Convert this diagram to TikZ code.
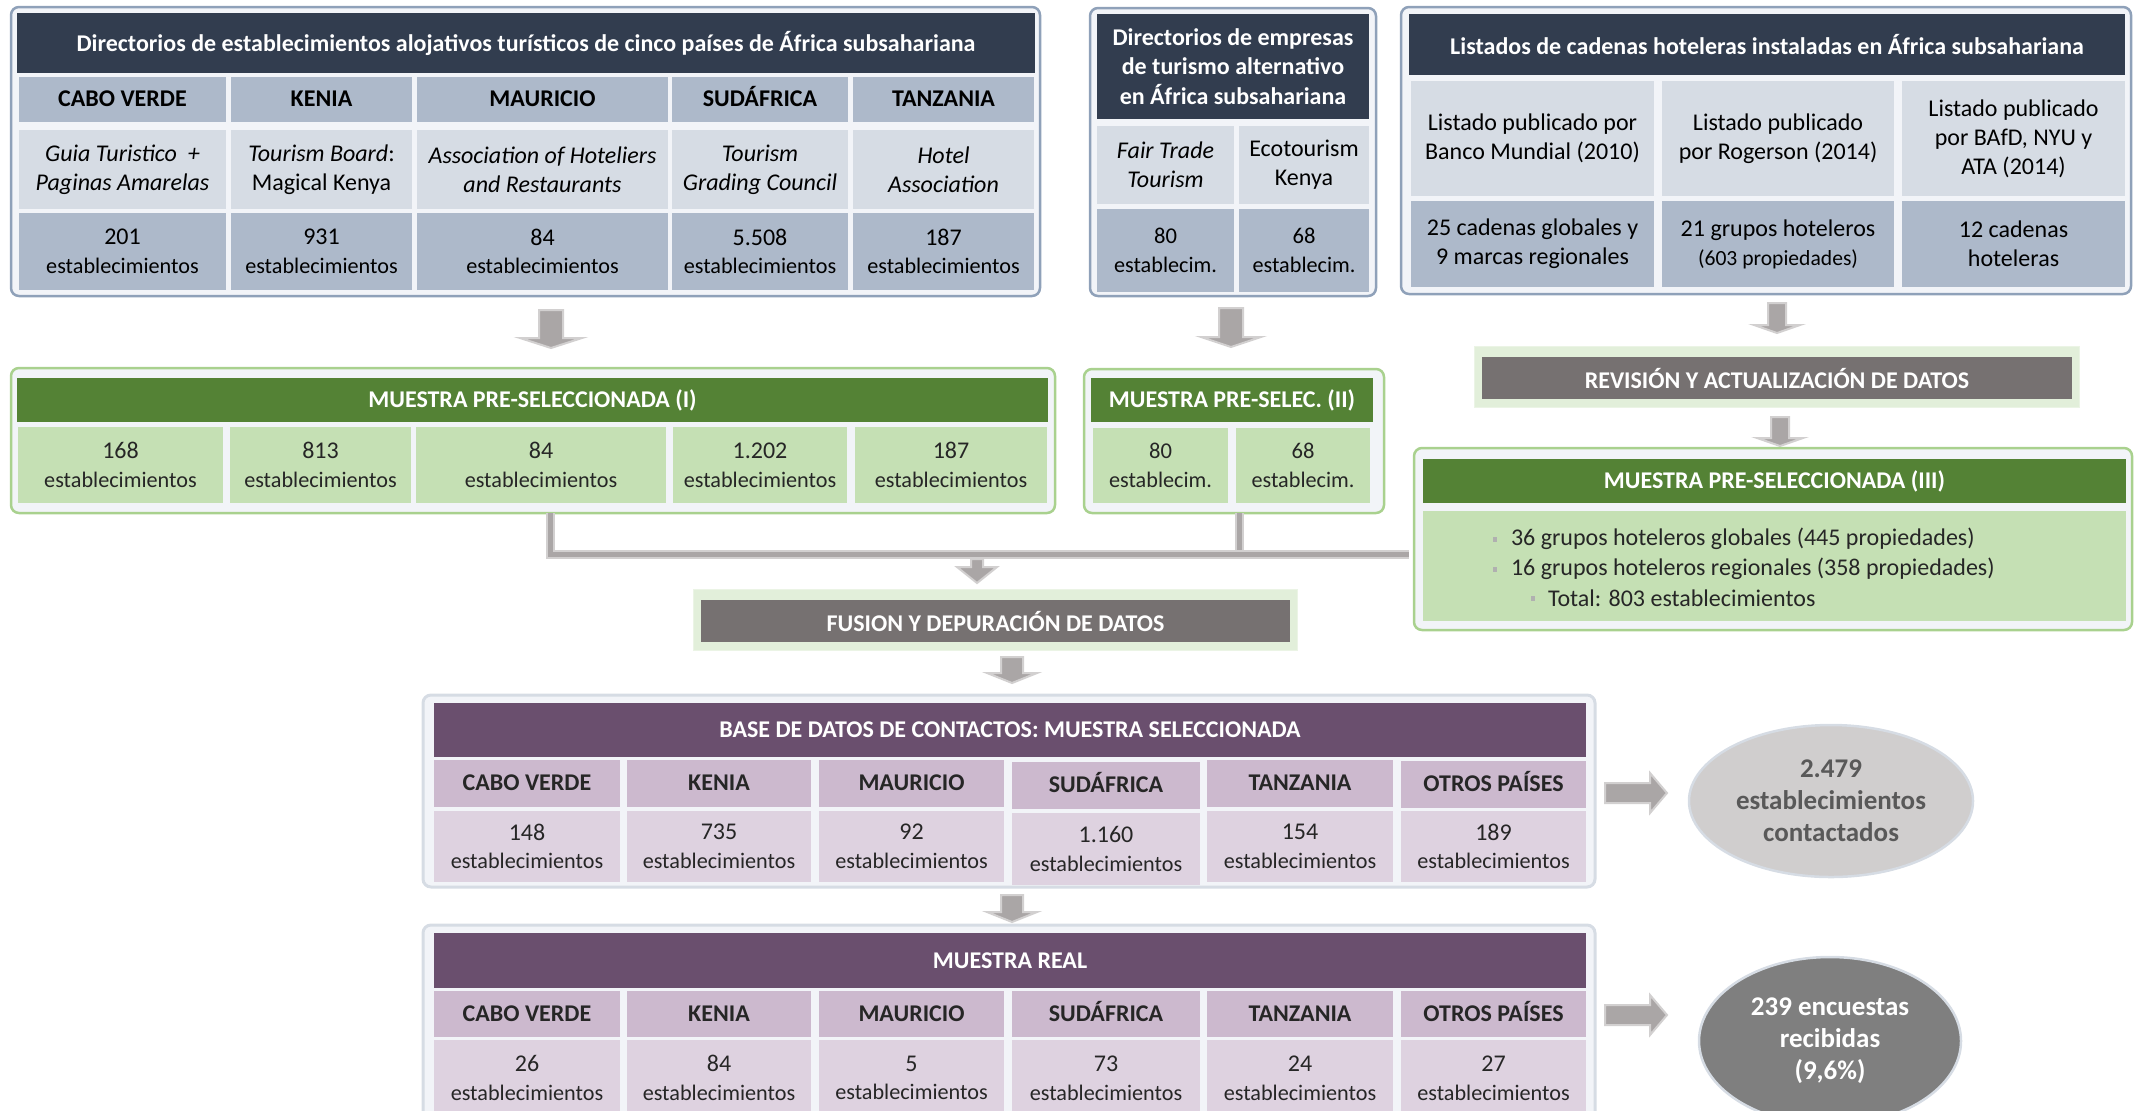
\documentclass[tikz,border=0pt]{standalone}
\usepackage{fontspec}
\setmainfont{Carlito}
\usetikzlibrary{shapes.geometric,calc}

\definecolor{navy}{HTML}{323D4F}
\definecolor{bgA}{HTML}{ADB9CA}
\definecolor{bgB}{HTML}{D6DCE4}
\definecolor{frameB}{HTML}{8FA1B9}
\definecolor{panel}{HTML}{F2F4F8}
\definecolor{gHead}{HTML}{548235}
\definecolor{gCell}{HTML}{C5E0B4}
\definecolor{gFrame}{HTML}{A9D18E}
\definecolor{gLight}{HTML}{E2EFDA}
\definecolor{proc}{HTML}{767171}
\definecolor{pHead}{HTML}{6A4F6E}
\definecolor{pCellA}{HTML}{CCB9CE}
\definecolor{pCellB}{HTML}{DED2E0}
\definecolor{pFrame}{HTML}{D6DCE4}
\definecolor{arrFill}{HTML}{AAA6A6}
\definecolor{arrEdge}{HTML}{D2D0D0}
\definecolor{ellA}{HTML}{D0CECE}
\definecolor{ellB}{HTML}{7F7F7F}
\definecolor{txtG}{HTML}{595959}
\definecolor{darkt}{HTML}{262626}
\definecolor{bulc}{HTML}{B0B0B0}

\newcommand\fhead{\fontsize{12}{14.6}\selectfont\bfseries}
\newcommand\fcty{\fontsize{12}{14}\selectfont\bfseries}
\newcommand\fsrc{\fontsize{12}{14.5}\selectfont}
\newcommand\fbody{\fontsize{11.1}{14.3}\selectfont}
\newcommand\flist{\fontsize{12}{15}\selectfont}
\newcommand\fell{\fontsize{13.5}{16}\selectfont\bfseries}
\newcommand\nbig[1]{{\fontsize{12}{14.3}\selectfont #1}}
\newcommand\nmid[1]{{\fontsize{11.3}{14.3}\selectfont #1}}

% box from (x1,y1) to (x2,y2) in pixel units, text centred
\newcommand\bx[7][]{%
  \pgfmathsetmacro\bw{(#5-#3)/2}%
  \pgfmathsetmacro\bh{(#6-#4)/2}%
  \node[#1, minimum width=\bw pt, minimum height=\bh pt] (#2) at ({(#3+#5)/2},{(#4+#6)/2}) {#7};}
\newcommand\darrow[6]{\filldraw[blockarr] ({#1-#4/2},#2) -- ({#1+#4/2},#2) -- ({#1+#4/2},{#3-#6}) -- ({#1+#5/2},{#3-#6}) -- (#1,#3) -- ({#1-#5/2},{#3-#6}) -- ({#1-#4/2},{#3-#6}) -- cycle;}
\newcommand\rarrow[6]{\filldraw[blockarr] (#2,{#1-#4/2}) -- (#2,{#1+#4/2}) -- ({#3-#6},{#1+#4/2}) -- ({#3-#6},{#1+#5/2}) -- (#3,#1) -- ({#3-#6},{#1-#5/2}) -- ({#3-#6},{#1-#4/2}) -- cycle;}

\tikzset{
  every node/.style={inner sep=0pt, outer sep=0pt, align=center},
  frameA/.style={draw=frameB, line width=1.25pt, fill=panel, rounded corners=4pt},
  hdA/.style={fill=navy, text=white, font=\fhead},
  ctyA/.style={fill=bgA, font=\fcty, text height=8.6pt, text depth=1.6pt},
  srcA/.style={fill=bgB, font=\fsrc},
  numA/.style={fill=bgA, font=\fbody},
  frameG/.style={draw=gFrame, line width=1.25pt, fill=panel, rounded corners=4pt},
  hdG/.style={fill=gHead, text=white, font=\fhead},
  cellG/.style={fill=gCell, font=\fbody, text=darkt},
  procO/.style={fill=gLight, draw=gLight!70!white, line width=0.5pt},
  procI/.style={fill=proc, text=white, font=\fhead},
  frameP/.style={draw=pFrame, line width=1.5pt, fill=panel, rounded corners=4pt},
  hdP/.style={fill=pHead, text=white, font=\fhead},
  ctyP/.style={fill=pCellA, font=\fcty, text=darkt, text height=8.6pt, text depth=1.6pt},
  numP/.style={fill=pCellB, font=\fbody, text=darkt},
  blockarr/.style={fill=arrFill, draw=arrEdge, line width=1pt, line join=miter},
  conn/.style={draw=arrEdge, double=arrFill, double distance=2.5pt, line width=1pt},
  bigell/.style={ellipse, draw=pFrame, line width=1.25pt, font=\fell}
}

\begin{document}
\begin{tikzpicture}[x=0.5pt,y=-0.5pt]
\useasboundingbox (0,0) rectangle (2134,1110);
\clip (0,0) rectangle (2134,1110);

% ---------- Box 1 ----------
\bx[frameA]{d1}{11}{7}{1040}{296}{}
\bx[hdA]{d1h}{17}{13}{1035}{73}{Directorios de establecimientos alojativos turísticos de cinco países de África subsahariana}
\bx[ctyA]{d1c1}{19}{77}{226}{122}{CABO VERDE}
\bx[ctyA]{d1c2}{231}{77}{412}{122}{KENIA}
\bx[ctyA]{d1c3}{417}{77}{668}{122}{MAURICIO}
\bx[ctyA]{d1c4}{672}{77}{848}{122}{SUDÁFRICA}
\bx[ctyA]{d1c5}{853}{77}{1034}{122}{TANZANIA}
\bx[srcA]{d1s1}{19}{130}{226}{209}{\textit{Guia Turistico\ \ +}\\\textit{Paginas Amarelas}}
\bx[srcA]{d1s2}{231}{130}{412}{209}{\textit{Tourism Board}:\\Magical Kenya}
\bx[srcA]{d1s3}{417}{130}{668}{209}{\textit{Association of Hoteliers}\\\textit{and Restaurants}}
\bx[srcA]{d1s4}{672}{130}{848}{209}{\textit{Tourism}\\\textit{Grading Council}}
\bx[srcA]{d1s5}{853}{130}{1034}{209}{\textit{Hotel}\\\textit{Association}}
\bx[numA]{d1n1}{19}{213}{226}{290}{\nbig{201}\\establecimientos}
\bx[numA]{d1n2}{231}{213}{412}{290}{\nbig{931}\\establecimientos}
\bx[numA]{d1n3}{417}{213}{668}{290}{\nbig{84}\\establecimientos}
\bx[numA]{d1n4}{672}{213}{848}{290}{\nbig{5.508}\\establecimientos}
\bx[numA]{d1n5}{853}{213}{1034}{290}{\nbig{187}\\establecimientos}

% ---------- Box 2 ----------
\bx[frameA]{d2}{1090}{8}{1376}{296}{}
\bx[hdA]{d2h}{1097}{14}{1369}{119}{Directorios de empresas\\de turismo alternativo\\en África subsahariana}
\bx[srcA]{d2s1}{1097}{126}{1234}{204}{\textit{Fair Trade}\\\textit{Tourism}}
\bx[srcA]{d2s2}{1239}{126}{1369}{204}{Ecotourism\\Kenya}
\bx[numA]{d2n1}{1097}{209}{1234}{292}{\nmid{80}\\establecim.}
\bx[numA]{d2n2}{1239}{209}{1369}{292}{\nmid{68}\\establecim.}

% ---------- Box 3 ----------
\bx[frameA]{d3}{1401}{7}{2131}{294}{}
\bx[hdA]{d3h}{1409}{14}{2125}{75}{Listados de cadenas hoteleras instaladas en África subsahariana}
\bx[srcA]{d3s1}{1411}{81}{1654}{196}{Listado publicado por\\Banco Mundial (2010)}
\bx[srcA]{d3s2}{1662}{81}{1894}{196}{Listado publicado\\por Rogerson (2014)}
\bx[srcA]{d3s3}{1902}{81}{2125}{196}{Listado publicado\\por BAfD, NYU y\\ATA (2014)}
\bx[numA,font=\fsrc]{d3n1}{1411}{201}{1654}{287}{25 cadenas globales y\\9 marcas regionales}
\bx[numA,font=\fsrc]{d3n2}{1662}{201}{1894}{287}{21 grupos hoteleros\\{\fontsize{10.8}{13}\selectfont(603 propiedades)}}
\bx[numA,font=\fsrc]{d3n3}{1902}{201}{2125}{287}{12 cadenas\\hoteleras}

% ---------- arrows from top boxes ----------
\darrow{551}{310}{348}{24}{62}{10}
\darrow{1231}{308}{347}{24}{60}{10}
\darrow{1777}{303}{333}{18}{46}{8}

% ---------- MPS I ----------
\bx[frameG]{m1}{11}{368}{1055}{513}{}
\bx[hdG]{m1h}{17}{378}{1048}{422}{MUESTRA PRE-SELECCIONADA (I)}
\bx[cellG]{m1c1}{18}{427}{223}{503}{\nbig{168}\\establecimientos}
\bx[cellG]{m1c2}{230}{427}{411}{503}{\nbig{813}\\establecimientos}
\bx[cellG]{m1c3}{416}{427}{666}{503}{\nbig{84}\\establecimientos}
\bx[cellG]{m1c4}{673}{427}{847}{503}{\nbig{1.202}\\establecimientos}
\bx[cellG]{m1c5}{855}{427}{1047}{503}{\nbig{187}\\establecimientos}

% ---------- MPS II ----------
\bx[frameG]{m2}{1084}{369}{1384}{513}{}
\bx[hdG]{m2h}{1091}{378}{1373}{422}{MUESTRA PRE-SELEC. (II)}
\bx[cellG]{m2c1}{1093}{428}{1228}{503}{\nmid{80}\\establecim.}
\bx[cellG]{m2c2}{1236}{428}{1370}{503}{\nmid{68}\\establecim.}

% ---------- Revision ----------
\bx[procO]{ro}{1474}{346}{2079}{407}{}
\bx[procI]{ri}{1482}{357}{2072}{399}{REVISIÓN Y ACTUALIZACIÓN DE DATOS}
\darrow{1780}{417}{446}{18}{46}{8}

% ---------- MPS III ----------
\bx[frameG]{m3}{1414}{448}{2132}{630}{}
\bx[hdG]{m3h}{1423}{459}{2126}{503}{MUESTRA PRE-SELECCIONADA (III)}
\bx[cellG]{m3b}{1423}{511}{2126}{621}{}
\fill[bulc] (1493,537) rectangle (1497,542);
\fill[bulc] (1493,567) rectangle (1497,572);
\fill[bulc] (1531,596) rectangle (1535,601);
\node[anchor=west, font=\flist, text=darkt] (l1) at (1511,539) {36 grupos hoteleros globales (445 propiedades)};
\node[anchor=west, font=\flist, text=darkt] (l2) at (1511,569) {16 grupos hoteleros regionales (358 propiedades)};
\node[anchor=west, font=\flist, text=darkt] (l3) at (1548,598) {Total: 803 establecimientos};

% ---------- connectors to fusion ----------
\coordinate (j1) at (550,554);
\coordinate (j2) at (1239,554);
\coordinate (jr) at (1409,554);
\draw[conn] (m2.south -| j2) -- (j2);
\draw[conn] (m1.south -| j1) -- (j1) -- (jr);
\darrow{977}{559}{583}{12}{40}{16}

% ---------- Fusion ----------
\bx[procO]{fo}{693}{589}{1297}{650}{}
\bx[procI]{fi}{701}{600}{1290}{642}{FUSION Y DEPURACIÓN DE DATOS}
\darrow{1012}{657}{683}{22}{50}{10}

% ---------- Base de datos ----------
\bx[frameP]{b}{423}{695}{1595}{887}{}
\bx[hdP]{bh}{434}{703}{1586}{757}{BASE DE DATOS DE CONTACTOS: MUESTRA SELECCIONADA}
\bx[ctyP]{bc1}{434}{760}{620}{807}{CABO VERDE}
\bx[ctyP]{bc2}{627}{760}{811}{807}{KENIA}
\bx[ctyP]{bc3}{819}{760}{1004}{807}{MAURICIO}
\bx[ctyP]{bc4}{1012}{762}{1200}{809}{SUDÁFRICA}
\bx[ctyP]{bc5}{1207}{760}{1393}{807}{TANZANIA}
\bx[ctyP]{bc6}{1401}{761}{1586}{808}{OTROS PAÍSES}
\bx[numP]{bn1}{434}{811}{620}{882}{\nbig{148}\\establecimientos}
\bx[numP]{bn2}{627}{811}{811}{882}{\nbig{735}\\establecimientos}
\bx[numP]{bn3}{819}{811}{1004}{882}{\nbig{92}\\establecimientos}
\bx[numP]{bn4}{1012}{813}{1200}{885}{\nbig{1.160}\\establecimientos}
\bx[numP]{bn5}{1207}{811}{1393}{882}{\nbig{154}\\establecimientos}
\bx[numP]{bn6}{1401}{811}{1586}{882}{\nbig{189}\\establecimientos}
\darrow{1012}{895}{922}{22}{50}{10}

% ---------- Muestra real ----------
\bx[frameP]{r}{423}{925}{1595}{1125}{}
\bx[hdP]{rh}{434}{933}{1586}{988}{MUESTRA REAL}
\bx[ctyP]{rc1}{434}{991}{620}{1037}{CABO VERDE}
\bx[ctyP]{rc2}{627}{991}{811}{1037}{KENIA}
\bx[ctyP]{rc3}{819}{991}{1004}{1037}{MAURICIO}
\bx[ctyP]{rc4}{1012}{991}{1200}{1037}{SUDÁFRICA}
\bx[ctyP]{rc5}{1207}{991}{1393}{1037}{TANZANIA}
\bx[ctyP]{rc6}{1401}{991}{1586}{1037}{OTROS PAÍSES}
\bx[numP]{rn1}{434}{1040}{620}{1116}{\nbig{26}\\establecimientos}
\bx[numP]{rn2}{627}{1040}{811}{1116}{\nbig{84}\\establecimientos}
\bx[numP]{rn3}{819}{1040}{1004}{1116}{\nbig{5}\\establecimientos}
\bx[numP]{rn4}{1012}{1040}{1200}{1116}{\nbig{73}\\establecimientos}
\bx[numP]{rn5}{1207}{1040}{1393}{1116}{\nbig{24}\\establecimientos}
\bx[numP]{rn6}{1401}{1040}{1586}{1116}{\nbig{27}\\establecimientos}

% ---------- right side ----------
\rarrow{793}{1605}{1667}{20}{40}{17}
\rarrow{1015}{1605}{1667}{20}{40}{17}
\node[bigell, fill=ellA, text=txtG, minimum width=142pt, minimum height=76pt] (e1) at (1831,801) {2.479\\establecimientos\\contactados};
\node[bigell, fill=ellB, text=white, minimum width=131pt, minimum height=84pt] (e2) at (1830,1041) {239 encuestas\\recibidas\\(9,6\%)};
\end{tikzpicture}
\end{document}
